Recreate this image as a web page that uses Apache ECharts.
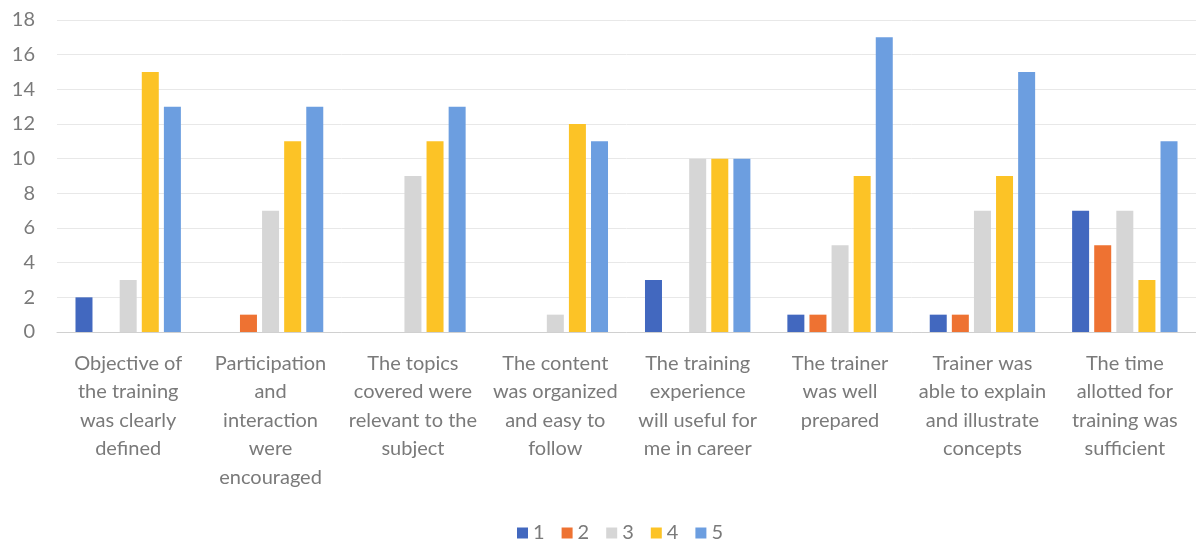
<!DOCTYPE html>
<html>
<head>
<meta charset="utf-8">
<script src="https://cdn.jsdelivr.net/npm/echarts@6/dist/echarts.min.js"></script>
<style>
  html, body { margin: 0; padding: 0; background: #fff; }
  #chart { width: 1196px; height: 540px; }
</style>
</head>
<body>
<div id="chart"></div>
<script>
// Survey statements (x-axis categories)
const categories = [
  'Objective of\nthe training\nwas clearly\ndefined',
  'Participation\nand\ninteraction\nwere\nencouraged',
  'The topics\ncovered were\nrelevant to the\nsubject',
  'The content\nwas organized\nand easy to\nfollow',
  'The training\nexperience\nwill useful for\nme in career',
  'The trainer\nwas well\nprepared',
  'Trainer was\nable to explain\nand illustrate\nconcepts',
  'The time\nallotted for\ntraining was\nsufficient'
];

// Number of responses for each rating
const rating1 = [2, 0, 0, 0, 3, 1, 1, 7];
const rating2 = [0, 1, 0, 0, 0, 1, 1, 5];
const rating3 = [3, 7, 9, 1, 10, 5, 7, 7];
const rating4 = [15, 11, 11, 12, 10, 9, 9, 3];
const rating5 = [13, 13, 13, 11, 10, 17, 15, 11];

const seriesNames = ['1', '2', '3', '4', '5'];
const seriesValues = [rating1, rating2, rating3, rating4, rating5];
const colors = ['#4268bf', '#ee7232', '#d6d6d6', '#fcc326', '#6c9ee0'];

const textColor = '#7a7a7a';
const fontFamily = 'Lato, "Open Sans", sans-serif';

const chart = echarts.init(document.getElementById('chart'));
chart.setOption({
  animation: false,
  color: colors,
  textStyle: { fontFamily: fontFamily },
  grid: { left: 57, right: 0, top: 20, bottom: 208 },
  legend: {
    top: 518,
    left: 512,
    data: seriesNames,
    itemWidth: 11,
    itemHeight: 11,
    itemGap: 17,
    icon: 'rect',
    textStyle: { color: textColor, fontSize: 20, fontFamily: fontFamily }
  },
  xAxis: {
    type: 'category',
    data: categories,
    axisTick: { show: false },
    axisLine: { lineStyle: { color: '#d0d0d0', width: 1 } },
    axisLabel: {
      interval: 0,
      color: textColor,
      fontSize: 20,
      lineHeight: 28.5,
      margin: 17,
      fontFamily: fontFamily
    }
  },
  yAxis: {
    type: 'value',
    min: 0,
    max: 18,
    interval: 2,
    axisLine: { show: false },
    axisTick: { show: false },
    splitLine: { lineStyle: { color: '#e8e8e8', width: 1 } },
    axisLabel: { color: textColor, fontSize: 20, margin: 22, fontFamily: fontFamily }
  },
  series: seriesNames.map((name, i) => ({
    name: name,
    type: 'bar',
    data: seriesValues[i],
    barWidth: 17,
    barGap: '30%',
    barCategoryGap: '26%'
  }))
});
</script>
</body>
</html>
